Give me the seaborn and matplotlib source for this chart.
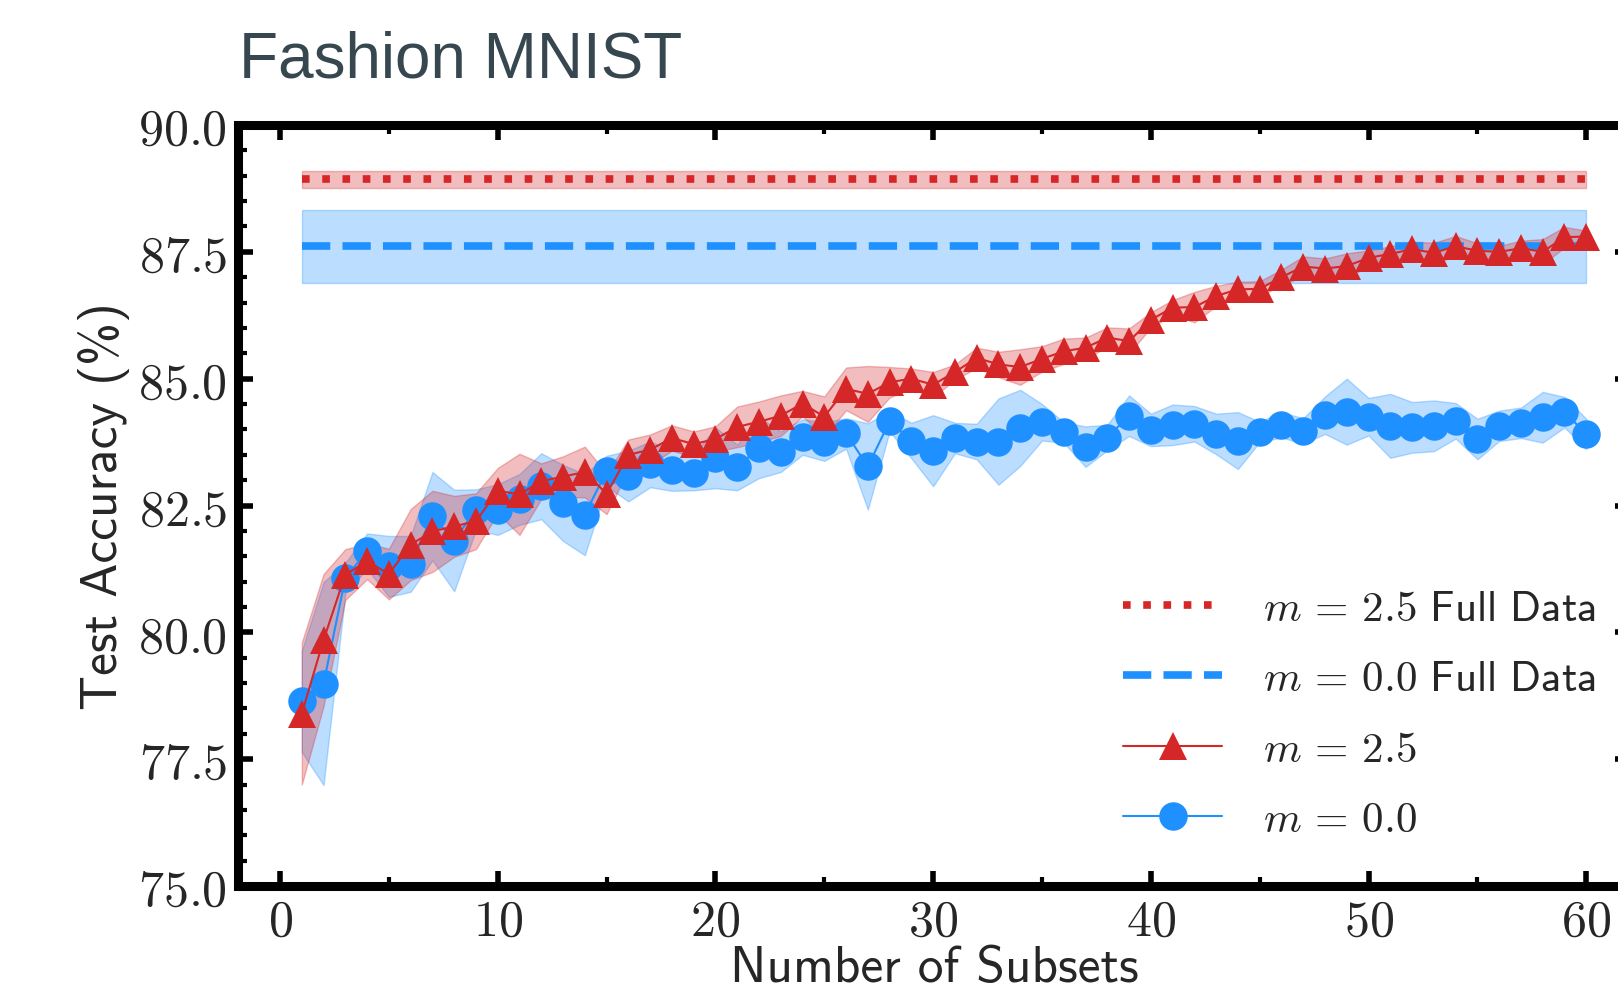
import numpy as np
import pandas as pd
import seaborn as sns
import matplotlib.pyplot as plt
import matplotlib.ticker as mticker

# number of subsets on the x axis
subsets = np.arange(1, 61)

# m = 2.5, trained on subsets (mean and std of test accuracy)
acc_m25 = [78.40, 79.85, 81.14, 81.40, 81.15, 81.73, 81.99, 82.09, 82.19, 82.79,
           82.72, 82.98, 83.07, 83.16, 82.73, 83.50, 83.60, 83.83, 83.71, 83.81,
           84.05, 84.15, 84.27, 84.51, 84.25, 84.80, 84.70, 84.93, 85.00, 84.88,
           85.13, 85.41, 85.28, 85.23, 85.39, 85.54, 85.61, 85.81, 85.74, 86.16,
           86.40, 86.41, 86.63, 86.76, 86.77, 87.00, 87.21, 87.17, 87.22, 87.38,
           87.46, 87.55, 87.48, 87.61, 87.52, 87.50, 87.57, 87.50, 87.79, 87.80]
std_m25 = [1.4, 1.3, 0.5, 0.35, 0.5, 0.7, 0.8, 0.6, 0.55, 0.45,
           0.8, 0.35, 0.4, 0.5, 0.4, 0.3, 0.3, 0.25, 0.25, 0.25,
           0.4, 0.4, 0.4, 0.25, 0.4, 0.42, 0.55, 0.3, 0.2, 0.25,
           0.15, 0.2, 0.25, 0.35, 0.25, 0.25, 0.2, 0.2, 0.25, 0.15,
           0.15, 0.3, 0.2, 0.15, 0.15, 0.15, 0.2, 0.2, 0.25, 0.15,
           0.15, 0.15, 0.2, 0.2, 0.15, 0.12, 0.15, 0.25, 0.2, 0.12]

# m = 0.0, trained on subsets
acc_m00 = [78.64, 78.99, 81.07, 81.60, 81.30, 81.35, 82.29, 81.81, 82.42, 82.42,
           82.62, 82.88, 82.55, 82.32, 83.18, 83.08, 83.31, 83.19, 83.15, 83.44,
           83.25, 83.64, 83.56, 83.85, 83.76, 83.92, 83.27, 84.16, 83.78, 83.58,
           83.83, 83.76, 83.76, 84.03, 84.14, 83.94, 83.66, 83.84, 84.27, 83.99,
           84.09, 84.11, 83.91, 83.78, 83.95, 84.09, 83.97, 84.28, 84.35, 84.25,
           84.07, 84.04, 84.07, 84.17, 83.81, 84.07, 84.13, 84.24, 84.34, 83.91]
std_m00 = [1.0, 2.0, 0.3, 0.35, 0.6, 0.55, 0.87, 1.0, 0.4, 0.5,
           0.5, 0.65, 0.75, 0.8, 0.3, 0.5, 0.45, 0.4, 0.35, 0.6,
           0.45, 0.6, 0.4, 0.35, 0.38, 0.3, 0.85, 0.2, 0.35, 0.7,
           0.3, 0.35, 0.85, 0.75, 0.36, 0.2, 0.4, 0.25, 0.4, 0.32,
           0.4, 0.35, 0.4, 0.56, 0.2, 0.25, 0.25, 0.37, 0.65, 0.37,
           0.63, 0.5, 0.5, 0.35, 0.4, 0.3, 0.3, 0.5, 0.3, 0.3]

# full data baselines
full_m25, full_std_m25 = 88.93, 0.165
full_m00, full_std_m00 = 87.61, 0.72

red = '#d62728'
blue = '#1e90ff'

lab_full25 = r'$m\,=\,2.5\ \mathsf{Full\ Data}$'
lab_full00 = r'$m\,=\,0.0\ \mathsf{Full\ Data}$'
lab_m25 = r'$m\,=\,2.5$'
lab_m00 = r'$m\,=\,0.0$'

sns.set_style('ticks')
plt.rcParams['mathtext.fontset'] = 'cm'
plt.rcParams['font.family'] = ['DejaVu Sans']

df = pd.DataFrame({'subsets': subsets, 'm25': acc_m25, 'm00': acc_m00,
                   's25': std_m25, 's00': std_m00})
ends = [subsets[0], subsets[-1]]

fig = plt.figure(figsize=(16.18, 9.95), dpi=100)
ax = fig.add_axes([0.1471, 0.1085, 0.8602, 0.7649])

# shaded bands
ax.fill_between(ends, full_m25 - full_std_m25, full_m25 + full_std_m25,
                color=red, alpha=0.3, lw=1)
ax.fill_between(ends, full_m00 - full_std_m00, full_m00 + full_std_m00,
                color=blue, alpha=0.3, lw=1)
ax.fill_between(df['subsets'], df['m00'] - df['s00'], df['m00'] + df['s00'],
                color=blue, alpha=0.3, lw=1)
ax.fill_between(df['subsets'], df['m25'] - df['s25'], df['m25'] + df['s25'],
                color=red, alpha=0.3, lw=1)

# full data lines
sns.lineplot(x=ends, y=[full_m25] * 2, color=red, linestyle=':', lw=5.5,
             label=lab_full25, ax=ax)
sns.lineplot(x=ends, y=[full_m00] * 2, color=blue, linestyle='--', lw=5.5,
             label=lab_full00, ax=ax)

# subset curves
sns.lineplot(data=df, x='subsets', y='m00', color=blue, lw=1.5, marker='o',
             markersize=20.5, markeredgewidth=0, label=lab_m00, ax=ax)
sns.lineplot(data=df, x='subsets', y='m25', color=red, lw=1.5, marker='^',
             markersize=20.5, markeredgewidth=0, label=lab_m25, ax=ax)

ax.set_xlim(-1.93, 62)
ax.set_ylim(75, 90)
ax.xaxis.set_major_locator(mticker.MultipleLocator(10))
ax.xaxis.set_minor_locator(mticker.MultipleLocator(5))
ax.yaxis.set_major_locator(mticker.MultipleLocator(2.5))
ax.yaxis.set_minor_locator(mticker.MultipleLocator(0.5))
ax.xaxis.set_major_formatter(mticker.FuncFormatter(lambda v, p: f'${v:.0f}$'))
ax.yaxis.set_major_formatter(mticker.FuncFormatter(lambda v, p: f'${v:.1f}$'))
ax.tick_params(which='both', direction='in', top=True, right=True,
               labelsize=36, color='black')
ax.tick_params(which='major', length=11, width=4)
ax.tick_params(which='minor', length=6.5, width=3)
ax.tick_params(axis='y', pad=8)
ax.tick_params(axis='x', pad=8)
for s in ax.spines.values():
    s.set_linewidth(6.5)
    s.set_color('black')

ax.set_xlabel('Number of Subsets', fontsize=37, family='cmss10', labelpad=0)
ax.set_ylabel('Test Accuracy (%)', fontsize=37, family='cmss10', labelpad=6)

handles, labels = ax.get_legend_handles_labels()
hmap = dict(zip(labels, handles))
order = [lab_full25, lab_full00, lab_m25, lab_m00]
ax.legend([hmap[k] for k in order], order, loc='upper left',
          bbox_to_anchor=(1123 / 1618, 1 - 588 / 995),
          bbox_transform=fig.transFigure, frameon=False, fontsize=31,
          borderpad=0, borderaxespad=0, handlelength=2.3,
          handletextpad=0.95, labelspacing=0.66)

fig.text(239 / 1618, 1 - 77 / 995, 'Fashion MNIST', fontsize=46,
         family='Liberation Sans', color='#37474F', va='baseline')

fig.savefig('out.png', dpi=100)
